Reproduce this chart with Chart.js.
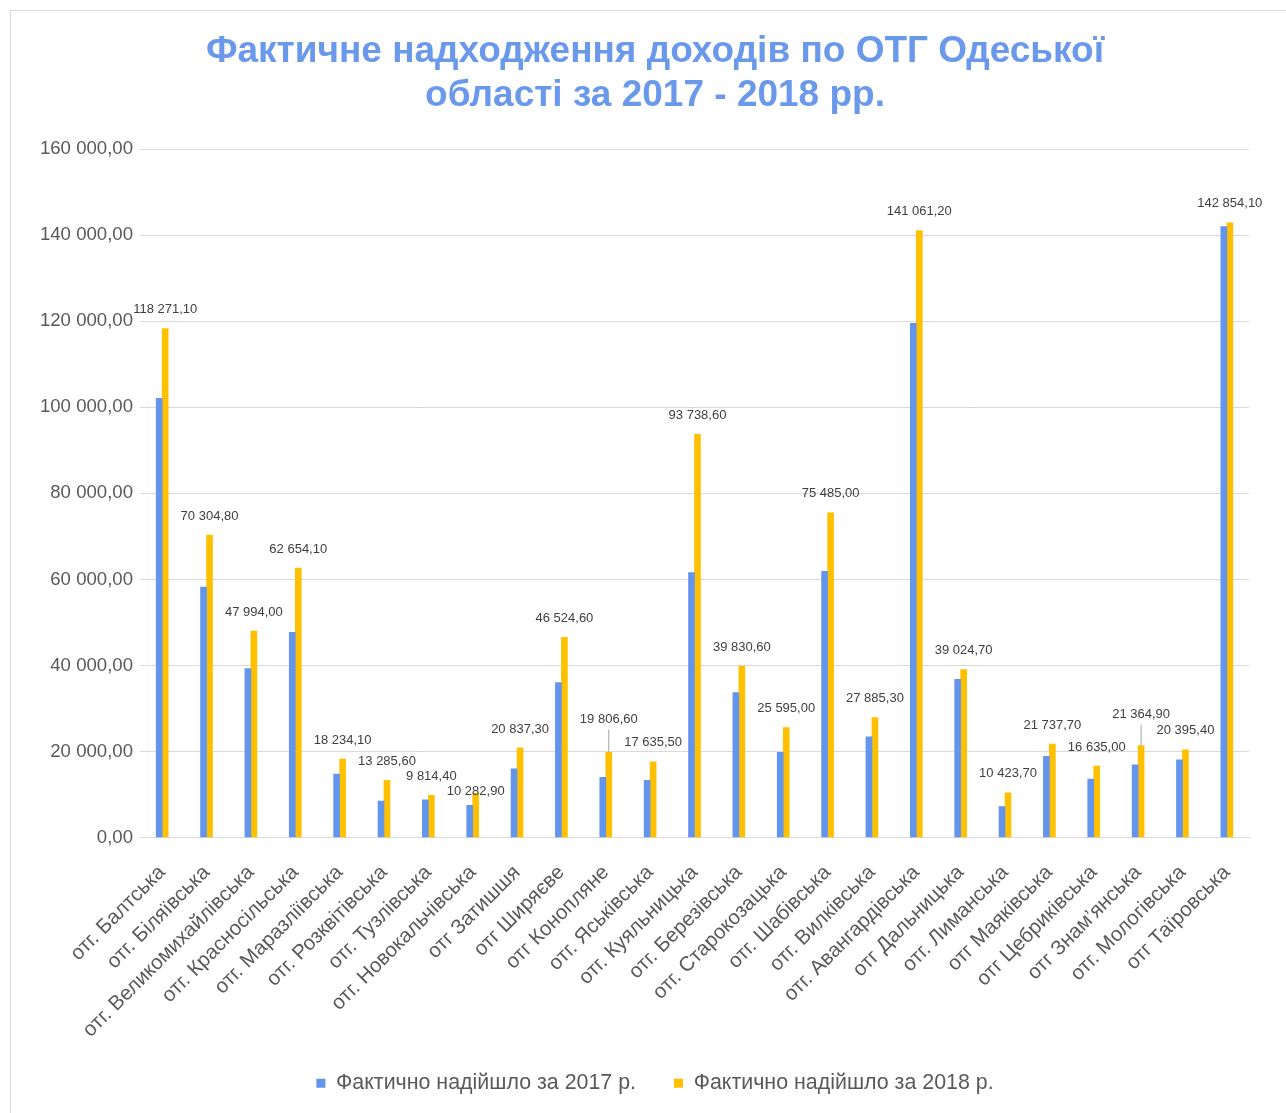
<!DOCTYPE html>
<html>
<head>
<meta charset="utf-8">
<script src="https://cdn.jsdelivr.net/npm/chart.js@4"></script>
<style>
  html, body { margin: 0; padding: 0; background: #fff; overflow: hidden; }
  #wrap { position: relative; width: 1286px; height: 1113px; }
  #frame { position: absolute; left: 10px; top: 10px; width: 1300px; height: 1200px; border: 1px solid #d9d9d9; }
  #chart { position: absolute; left: 0; top: 0; }
</style>
</head>
<body>
<div id="wrap">
  <div id="frame"></div>
  <canvas id="chart" width="1286" height="1113"></canvas>
</div>
<script>
const categories = [
  'отг. Балтська', 'отг. Біляївська', 'отг. Великомихайлівська', 'отг. Красносільська',
  'отг. Маразліївська', 'отг. Розквітівська', 'отг. Тузлівська', 'отг. Новокальчівська',
  'отг Затишшя', 'отг Ширяєве', 'отг Конопляне', 'отг. Яськівська', 'отг. Куяльницька',
  'отг. Березівська', 'отг. Старокозацька', 'отг. Шабівська', 'отг. Вилківська',
  'отг. Авангардівська', 'отг Дальницька', 'отг. Лиманська', 'отг Маяківська',
  'отг Цебриківська', 'отг Знам\u2019янська', 'отг. Мологівська', 'отг Таїровська'
];

const income2017 = [
  102100, 58200, 39300, 47700, 14750, 8500, 8750, 7500,
  16000, 36000, 14000, 13300, 61600, 33700, 19800, 61900, 23400,
  119500, 36800, 7200, 18900, 13600, 16900, 18100, 142000
];

const income2018 = [
  118271.1, 70304.8, 47994.0, 62654.1, 18234.1, 13285.6, 9814.4, 10282.9,
  20837.3, 46524.6, 19806.6, 17635.5, 93738.6, 39830.6, 25595.0, 75485.0, 27885.3,
  141061.2, 39024.7, 10423.7, 21737.7, 16635.0, 21364.9, 20395.4, 142854.1
];

const seriesNames = ['Фактично надійшло за 2017 р.', 'Фактично надійшло за 2018 р.'];
const yTicks = [0, 20000, 40000, 60000, 80000, 100000, 120000, 140000, 160000];

const FONT = "Arial, 'Liberation Sans', sans-serif";

function fmt(v) {
  const parts = v.toFixed(2).split('.');
  return parts[0].replace(/\B(?=(\d{3})+(?!\d))/g, ' ') + ',' + parts[1];
}

// labels over the 2018 bars, a few of them moved like in the original
const labelShift = { 7: 17, 10: -14, 22: -12 };
const leaderLines = [10, 22];

const valueLabels = {
  id: 'valueLabels',
  afterDatasetsDraw(chart) {
    const ctx = chart.ctx;
    const meta = chart.getDatasetMeta(1);
    ctx.save();
    ctx.font = '13px ' + FONT;
    ctx.fillStyle = '#404040';
    ctx.textAlign = 'center';
    ctx.textBaseline = 'middle';
    meta.data.forEach((bar, i) => {
      const y = bar.y - 19 + (labelShift[i] || 0);
      if (leaderLines.includes(i)) {
        ctx.strokeStyle = '#a6a6a6';
        ctx.lineWidth = 1;
        ctx.beginPath();
        ctx.moveTo(bar.x, y + 10);
        ctx.lineTo(bar.x, bar.y);
        ctx.stroke();
      }
      ctx.fillText(fmt(income2018[i]), bar.x, y);
    });
    ctx.restore();
  }
};

// axis boxes are sized by hand, so let their tick labels spill over
const noLabelClip = () => null;

new Chart(document.getElementById('chart'), {
  type: 'bar',
  data: {
    labels: categories,
    datasets: [{
      label: seriesNames[0],
      data: income2017,
      backgroundColor: '#6495ED',
      barThickness: 6
    }, {
      label: seriesNames[1],
      data: income2018,
      backgroundColor: '#FFC000',
      barThickness: 6
    }]
  },
  options: {
    responsive: false,
    animation: false,
    layout: { padding: { left: 61, right: 37, top: 0, bottom: 9 } },
    plugins: {
      title: {
        display: true,
        text: ['Фактичне надходження доходів по ОТГ Одеської', 'області за 2017 - 2018 рр.'],
        color: '#6A98EA',
        font: { family: FONT, size: 37, weight: 'bold', lineHeight: 1.19 },
        padding: { top: 30, bottom: 31 }
      },
      legend: {
        position: 'bottom',
        labels: {
          color: '#595959',
          font: { family: FONT, size: 21.4 },
          boxWidth: 9,
          boxHeight: 9,
          padding: 38
        }
      },
      tooltip: { enabled: false }
    },
    scales: {
      x: {
        grid: { display: false },
        border: { color: '#d9d9d9' },
        ticks: {
          color: '#595959',
          font: { family: FONT, size: 20.5 },
          minRotation: 45,
          maxRotation: 45,
          autoSkip: false,
          padding: 15
        },
        afterFit(scale) {
          scale.height = 197;
          scale._computeLabelArea = noLabelClip;
        }
      },
      y: {
        min: 0,
        max: 160000,
        afterBuildTicks(scale) { scale.ticks = yTicks.map(v => ({ value: v })); },
        grid: { color: '#d9d9d9', drawTicks: false },
        border: { display: false },
        ticks: {
          color: '#595959',
          font: { family: FONT, size: 18.6 },
          padding: 7,
          callback: v => fmt(v)
        },
        afterFit(scale) {
          scale.width = 79;
          scale._computeLabelArea = noLabelClip;
        }
      }
    }
  },
  plugins: [valueLabels]
});
</script>
</body>
</html>
